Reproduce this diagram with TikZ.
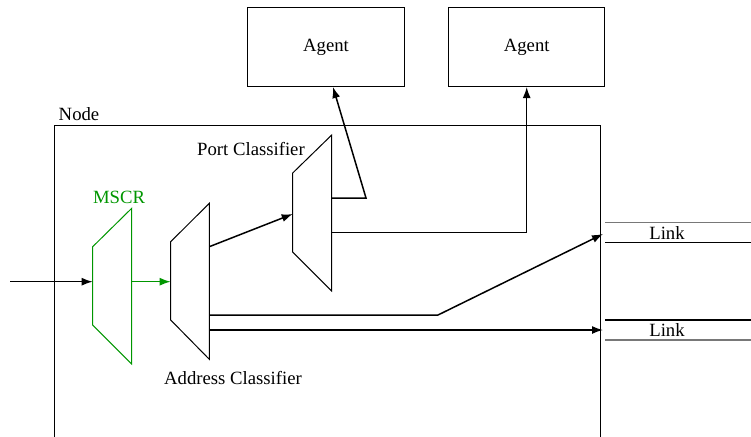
\documentclass[tikz,border=0pt]{standalone}
\usepackage{fontspec}
\setmainfont{Liberation Serif}
\usetikzlibrary{arrows.meta}
\definecolor{mgreen}{RGB}{0,150,0}
\definecolor{lgray}{RGB}{120,120,120}
\begin{document}
\begin{tikzpicture}[x=1pt,y=-1pt,
  lbl/.style={font=\fontsize{18.7}{20}\selectfont, inner sep=0pt, anchor=base},
  agentbox/.style={draw, line width=1pt, minimum width=156.5pt, minimum height=78pt, inner sep=0pt, font=\fontsize{18.7}{20}\selectfont},
  trap/.style={line width=1pt},
  conn/.style={line width=1.5pt, -{Latex[length=11pt,width=8pt]}},
  linkline/.style={line width=1.5pt}]
\useasboundingbox (0,0) rectangle (751,436);

% agents
\node[agentbox] (a1) at (326,47) {Agent};
\node[agentbox] (a2) at (526.7,47) {Agent};

% node box
\coordinate (nbl) at (54,440);
\coordinate (ntl) at (54,125);
\coordinate (ntr) at (600,125);
\coordinate (nbr) at (600,440);
\draw[line width=1pt] (nbl) -- (ntl) -- (ntr) -- (nbr);
\node[lbl] (nodelbl) at (79,120) {Node};

% MSCR
\coordinate (m1) at (92.7,246.7);
\coordinate (m2) at (131.7,208.3);
\coordinate (m3) at (131.7,364);
\coordinate (m4) at (92.7,325);
\draw[trap, mgreen] (m1) -- (m2) -- (m3) -- (m4) -- cycle;
\node[lbl, text=mgreen] (mscrlbl) at (119,203.3) {MSCR};

% Address classifier
\coordinate (c1) at (170.7,241.7);
\coordinate (c2) at (209.3,203.3);
\coordinate (c3) at (209.3,359.3);
\coordinate (c4) at (170.7,320);
\draw[trap] (c1) -- (c2) -- (c3) -- (c4) -- cycle;
\node[lbl] (addrlbl) at (233,384) {Address Classifier};

% Port classifier
\coordinate (p1) at (292.7,173);
\coordinate (p2) at (331.7,135);
\coordinate (p3) at (331.7,291);
\coordinate (p4) at (292.7,252);
\draw[trap] (p1) -- (p2) -- (p3) -- (p4) -- cycle;
\node[lbl] (portlbl) at (251,155) {Port Classifier};

% links
\coordinate (l1a) at (605,222.7); \coordinate (l1b) at (751,222.7);
\coordinate (l2a) at (605,242.3); \coordinate (l2b) at (751,242.3);
\coordinate (l3a) at (605,320);   \coordinate (l3b) at (751,320);
\coordinate (l4a) at (605,340);   \coordinate (l4b) at (751,340);
\draw[linkline, lgray] (l1a) -- (l1b);
\draw[linkline] (l2a) -- (l2b);
\draw[linkline] (l3a) -- (l3b);
\draw[linkline, lgray] (l4a) -- (l4b);
\node[lbl] (link1) at (667,239) {Link};
\node[lbl] (link2) at (667,336.7) {Link};

% connectors
\coordinate (in) at (10,281.7);
\coordinate (min) at (92.7,281.7);
\coordinate (mout) at (131.7,281.7);
\coordinate (cin) at (170.7,281.7);
\draw[conn] (in) -- (min);
\draw[conn, mgreen] (mout) -- (cin);

\coordinate (co1) at (209.3,246.7);
\coordinate (pin) at (292.7,214);
\draw[conn] (co1) -- (pin);

\coordinate (po1) at (331.7,198);
\coordinate (pb1) at (366,198);
\coordinate (a1in) at (333,87);
\draw[conn] (po1) -- (pb1) -- (a1in);

\coordinate (po2) at (331.7,232.7);
\coordinate (a2in) at (526.7,87);
\draw[conn] (po2) -| (a2in);

\coordinate (co2) at (209.3,315);
\coordinate (cb2) at (438,315);
\coordinate (lk1) at (603,234);
\draw[conn] (co2) -- (cb2) -- (lk1);

\coordinate (co3) at (209.3,330);
\coordinate (lk2) at (603,330);
\draw[conn] (co3) -- (lk2);
\end{tikzpicture}
\end{document}
